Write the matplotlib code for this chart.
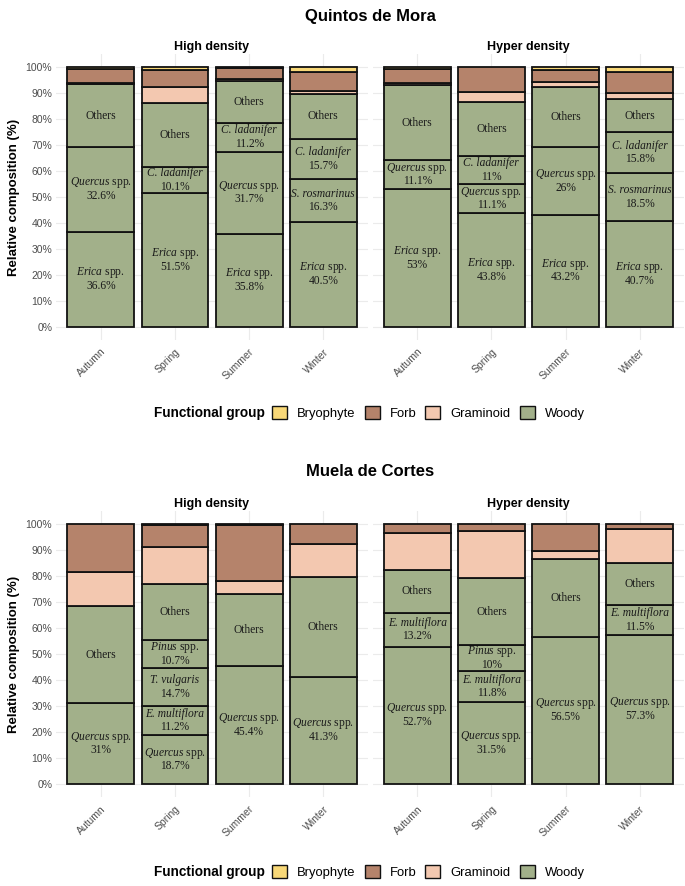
"""
plot.py - relativni sastav funkcionalnih grupa po sezonama
Dva lokaliteta (Quintos de Mora, Muela de Cortes), dvije gustine.
"""

import matplotlib
matplotlib.use("Agg")
import matplotlib.pyplot as plt
from matplotlib.patches import Patch
from matplotlib.transforms import ScaledTranslation

plt.rcParams["font.family"] = "Liberation Sans"
plt.rcParams["mathtext.fontset"] = "custom"
plt.rcParams["mathtext.rm"] = "Liberation Serif"
plt.rcParams["mathtext.it"] = "Liberation Serif:italic"

SEASONS = ["Autumn", "Spring", "Summer", "Winter"]
GROUPS = ["Bryophyte", "Forb", "Graminoid", "Woody"]
COLORS = {"Bryophyte": "#F8D878", "Forb": "#B5836B",
          "Graminoid": "#F3C8B0", "Woody": "#A2B08A"}

# --- Quintos de Mora, high density ---
QM_HIGH_SPECIES = [
    [("Erica spp.", 36.6), ("Quercus spp.", 32.6)],
    [("Erica spp.", 51.5), ("C. ladanifer", 10.1)],
    [("Erica spp.", 35.8), ("Quercus spp.", 31.7), ("C. ladanifer", 11.2)],
    [("Erica spp.", 40.5), ("S. rosmarinus", 16.3), ("C. ladanifer", 15.7)],
]
QM_HIGH_OTHERS = [24.4, 24.5, 16.1, 17.2]
QM_HIGH_GRAMINOID = [0.5, 6.2, 0.5, 1.2]
QM_HIGH_FORB = [5.2, 6.7, 4.4, 7.3]
QM_HIGH_BRYOPHYTE = [0.7, 1.0, 0.3, 1.8]

# --- Quintos de Mora, hyper density ---
QM_HYPER_SPECIES = [
    [("Erica spp.", 53), ("Quercus spp.", 11.1)],
    [("Erica spp.", 43.8), ("Quercus spp.", 11.1), ("C. ladanifer", 11)],
    [("Erica spp.", 43.2), ("Quercus spp.", 26)],
    [("Erica spp.", 40.7), ("S. rosmarinus", 18.5), ("C. ladanifer", 15.8)],
]
QM_HYPER_OTHERS = [29.1, 20.8, 23.3, 12.7]
QM_HYPER_GRAMINOID = [0.6, 3.6, 1.9, 2.3]
QM_HYPER_FORB = [5.6, 9.7, 4.6, 8.1]
QM_HYPER_BRYOPHYTE = [0.6, 0.0, 1.0, 1.9]

# --- Muela de Cortes, high density ---
MC_HIGH_SPECIES = [
    [("Quercus spp.", 31)],
    [("Quercus spp.", 18.7), ("E. multiflora", 11.2), ("T. vulgaris", 14.7),
     ("Pinus spp.", 10.7)],
    [("Quercus spp.", 45.4)],
    [("Quercus spp.", 41.3)],
]
MC_HIGH_OTHERS = [37.6, 21.6, 27.6, 38.4]
MC_HIGH_GRAMINOID = [12.9, 14.4, 5.2, 12.5]
MC_HIGH_FORB = [18.5, 8.3, 21.5, 7.8]
MC_HIGH_BRYOPHYTE = [0.0, 0.4, 0.3, 0.0]

# --- Muela de Cortes, hyper density ---
MC_HYPER_SPECIES = [
    [("Quercus spp.", 52.7), ("E. multiflora", 13.2)],
    [("Quercus spp.", 31.5), ("E. multiflora", 11.8), ("Pinus spp.", 10)],
    [("Quercus spp.", 56.5)],
    [("Quercus spp.", 57.3), ("E. multiflora", 11.5)],
]
MC_HYPER_OTHERS = [16.4, 25.8, 29.9, 16.3]
MC_HYPER_GRAMINOID = [14.1, 18.2, 3.3, 13.0]
MC_HYPER_FORB = [3.6, 2.7, 10.3, 1.9]
MC_HYPER_BRYOPHYTE = [0.0, 0.0, 0.0, 0.0]

W, H = 685, 886
BAR_KW = dict(width=0.9, edgecolor="#111111", linewidth=1.3, zorder=3)
LABEL_KW = dict(ha="center", va="center", fontsize=8.3, color="#1a1a1a",
                family="Liberation Serif", zorder=4,
                textcoords="offset points")
POMAK = 4.8   # pola razmaka između dva reda oznake (pt)


def oznaci(ax, x, y, ime, vrijednost):
    """Naziv vrste u kurzivu (+ spp. uspravno) i procenat ispod."""
    if ime.endswith(" spp."):
        prvi = r"$\mathit{" + ime[:-5] + r"}$ spp."
        ax.annotate(prvi, (x, y), xytext=(0, POMAK), **LABEL_KW)
    else:
        ax.annotate(ime, (x, y), xytext=(0, POMAK), style="italic", **LABEL_KW)
    ax.annotate(f"{vrijednost:g}%", (x, y), xytext=(0, -POMAK), **LABEL_KW)


def crtaj_panel(ax, species, others, gram, forb, bryo, naslov, y_oznake):
    for i in range(len(SEASONS)):
        dno = 0.0
        for ime, v in species[i]:
            ax.bar(i, v, bottom=dno, color=COLORS["Woody"], **BAR_KW)
            oznaci(ax, i, dno + v / 2, ime, v)
            dno += v
        ax.bar(i, others[i], bottom=dno, color=COLORS["Woody"], **BAR_KW)
        ax.annotate("Others", (i, dno + others[i] / 2), xytext=(0, 0), **LABEL_KW)
        dno += others[i]
        for grupa, vals in (("Graminoid", gram), ("Forb", forb), ("Bryophyte", bryo)):
            if vals[i] > 0:
                ax.bar(i, vals[i], bottom=dno, color=COLORS[grupa], **BAR_KW)
                dno += vals[i]

    ax.set_xlim(-0.6, 3.6)
    ax.set_ylim(-5, 105)
    ax.set_xticks(range(len(SEASONS)))
    ax.set_xticklabels(SEASONS, rotation=45, ha="right", va="top",
                       rotation_mode="anchor", fontsize=7.5, color="#4d4d4d")
    # malo udesno, kao u ggplot-u
    pomak = ScaledTranslation(4 / 72, 0, ax.figure.dpi_scale_trans)
    for lbl in ax.get_xticklabels():
        lbl.set_transform(lbl.get_transform() + pomak)
    ax.set_yticks(range(0, 101, 10))
    if y_oznake:
        ax.set_yticklabels([f"{v}%" for v in range(0, 101, 10)],
                           fontsize=7.5, color="#4d4d4d")
        ax.set_ylabel("Relative composition (%)", fontsize=9.5,
                      fontweight="bold", labelpad=4)
    else:
        ax.set_yticklabels([])
    ax.tick_params(axis="y", length=0, pad=3)
    ax.tick_params(axis="x", length=0, pad=5)
    ax.grid(True, color="#ebebeb", lw=0.8, zorder=0)
    ax.set_axisbelow(True)
    for s in ax.spines.values():
        s.set_visible(False)
    ax.set_title(naslov, fontsize=9, fontweight="bold", pad=3)


def legenda(fig, y_px):
    y = 1 - y_px / H
    fig.text(265 / W, y, "Functional group", ha="right", va="center",
             fontsize=9.8, fontweight="bold")
    rucke = [Patch(facecolor=COLORS[g], edgecolor="#111111", linewidth=1.0)
             for g in GROUPS]
    fig.legend(rucke, GROUPS, loc="center left", bbox_to_anchor=(272 / W, y),
               ncol=4, frameon=False, fontsize=9.4, handlelength=1.15,
               handleheight=1.15, handletextpad=0.77, columnspacing=0.69,
               borderpad=0, borderaxespad=0)


def main():
    fig = plt.figure(figsize=(W / 100, H / 100), dpi=100)

    lijevo_x, desno_x, sirina = 56.3, 372.7, 311.5
    gore_top, gore_bot = 54.3, 339.7
    dole_top, dole_bot = 511.0, 797.0

    def osa(x0, top, bot):
        return fig.add_axes([x0 / W, 1 - bot / H, sirina / W, (bot - top) / H])

    ax1 = osa(lijevo_x, gore_top, gore_bot)
    ax2 = osa(desno_x, gore_top, gore_bot)
    ax3 = osa(lijevo_x, dole_top, dole_bot)
    ax4 = osa(desno_x, dole_top, dole_bot)

    crtaj_panel(ax1, QM_HIGH_SPECIES, QM_HIGH_OTHERS, QM_HIGH_GRAMINOID,
                QM_HIGH_FORB, QM_HIGH_BRYOPHYTE, "High density", True)
    crtaj_panel(ax2, QM_HYPER_SPECIES, QM_HYPER_OTHERS, QM_HYPER_GRAMINOID,
                QM_HYPER_FORB, QM_HYPER_BRYOPHYTE, "Hyper density", False)
    crtaj_panel(ax3, MC_HIGH_SPECIES, MC_HIGH_OTHERS, MC_HIGH_GRAMINOID,
                MC_HIGH_FORB, MC_HIGH_BRYOPHYTE, "High density", True)
    crtaj_panel(ax4, MC_HYPER_SPECIES, MC_HYPER_OTHERS, MC_HYPER_GRAMINOID,
                MC_HYPER_FORB, MC_HYPER_BRYOPHYTE, "Hyper density", False)

    fig.text(370 / W, 1 - 17 / H, "Quintos de Mora", ha="center", va="center",
             fontsize=12, fontweight="bold")
    fig.text(370 / W, 1 - 471 / H, "Muela de Cortes", ha="center", va="center",
             fontsize=12, fontweight="bold")

    legenda(fig, 413)
    legenda(fig, 872)

    fig.savefig("out.png", dpi=100, facecolor="white")


if __name__ == "__main__":
    main()
